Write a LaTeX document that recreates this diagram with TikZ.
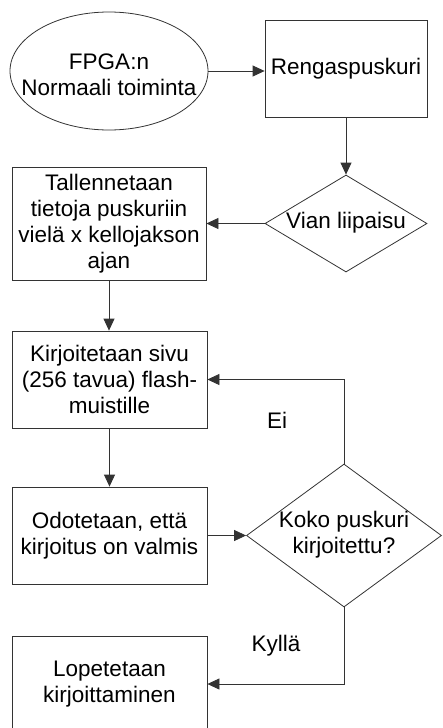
\documentclass[tikz,border=0pt]{standalone}
\usepackage{fontspec}
\setmainfont{Liberation Sans}
\usetikzlibrary{shapes.geometric,arrows.meta}
\begin{document}
\begin{tikzpicture}[x=1pt,y=-1pt,
  txt/.style={font=\fontsize{22.5}{26}\selectfont, align=center, inner sep=0pt},
  outline/.style={draw=black!80, line width=0.8pt},
  procbox/.style={outline, rectangle, inner sep=0pt, txt},
  decision/.style={outline, diamond, inner sep=0pt, aspect=1},
  terminal/.style={outline, ellipse, inner sep=0pt},
  flow/.style={draw=black!80, line width=0.8pt, -{Triangle[length=12pt,width=11pt]}}]
\useasboundingbox (0,0) rectangle (443,728);
\clip (0,0) rectangle (443,728);

% start state
\node[terminal, minimum width=198pt, minimum height=118pt] (start) at (109,71) {};
\node[txt] (starttext) at (109,75) {FPGA:n\\Normaali toiminta};

% ring buffer and trigger
\node[procbox, minimum width=162pt, minimum height=97pt] (ring) at (346,68.5) {Rengaspuskuri};
\node[decision, minimum width=162pt, minimum height=97pt] (trig) at (346,223.5) {};
\node[txt] (trigtext) at (346,223) {Vian liipaisu};

% left column of process steps
\node[procbox, minimum width=194pt, minimum height=113pt] (store) at (109,223.5)
  {Tallennetaan\\tietoja puskuriin\\vielä x kellojakson\\ajan};
\node[procbox, minimum width=195pt, minimum height=97pt] (write) at (109.5,379.5)
  {Kirjoitetaan sivu\\(256 tavua) flash-\\muistille};
\node[procbox, minimum width=195pt, minimum height=97pt] (wait) at (109.5,535.5)
  {Odotetaan, että\\kirjoitus on valmis};
\node[procbox, minimum width=195pt, minimum height=96pt] (stop) at (109.5,684)
  {Lopetetaan\\kirjoittaminen};

% completion check
\node[decision, minimum width=195pt, minimum height=143pt] (check) at (344,535.5) {};
\node[txt] (checktext) at (344,534.5) {Koko puskuri\\kirjoitettu?};

% branch labels
\node[txt] (nolabel) at (277,420) {Ei};
\node[txt] (yeslabel) at (276,646) {Kyllä};

% connectors
\draw[flow] (start.east) -- (start.east -| ring.west);
\draw[flow] (ring.south) -- (trig.north);
\draw[flow] (trig.west) -- (store.east);
\draw[flow] (store.south) -- (store.south |- write.north);
\draw[flow] (write.south) -- (wait.north);
\draw[flow] (wait.east) -- (check.west);
\draw[flow] (check.north) |- (write.east);
\draw[flow] (check.south) |- (stop.east);
\end{tikzpicture}
\end{document}
